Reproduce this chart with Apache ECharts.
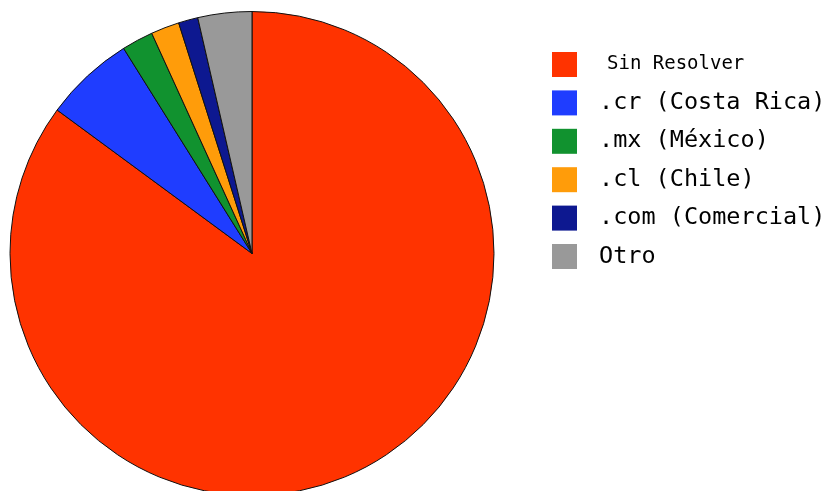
<!DOCTYPE html>
<html>
<head>
<meta charset="utf-8">
<script src="https://cdn.jsdelivr.net/npm/echarts@6/dist/echarts.min.js"></script>
<style>
html,body{margin:0;padding:0;background:#fff;}
#c{width:832px;height:491px;}
</style>
</head>
<body>
<div id="c"></div>
<script>
var categories = ['Sin Resolver', '.cr (Costa Rica)', '.mx (México)', '.cl (Chile)', '.com (Comercial)', 'Otro'];
var values = [85.1, 6.0, 2.1, 1.9, 1.3, 3.6];
var colors = ['#ff3300', '#1f3dff', '#11922f', '#ff9c0a', '#0d1890', '#999999'];

var chart = echarts.init(document.getElementById('c'), null, {renderer: 'canvas'});
var data = categories.map(function (n, i) {
  return {name: n, value: values[i], itemStyle: {color: colors[i]}};
});
chart.setOption({
  backgroundColor: '#ffffff',
  animation: false,
  legend: {
    orient: 'vertical',
    left: 552,
    top: 52,
    padding: 0,
    itemWidth: 25,
    itemHeight: 25,
    itemGap: 13.4,
    icon: 'rect',
    selectedMode: false,
    itemStyle: {borderWidth: 0},
    data: categories,
    formatter: function (name) {
      return name === 'Sin Resolver' ? '{s|' + name + '}' : '{m|' + name + '}';
    },
    textStyle: {
      color: '#000',
      rich: {
        s: {fontFamily: 'DejaVu Sans Mono', fontSize: 19, lineHeight: 25, padding: [0, 0, 0, 25], color: '#000'},
        m: {fontFamily: 'DejaVu Sans Mono', fontSize: 23.5, lineHeight: 25, padding: [0, 0, 0, 17], color: '#000'}
      }
    }
  },
  series: [{
    type: 'pie',
    center: [252, 253.5],
    radius: 242,
    startAngle: 90,
    clockwise: true,
    label: {show: false},
    labelLine: {show: false},
    emphasis: {disabled: true},
    itemStyle: {borderColor: '#111', borderWidth: 1},
    data: data
  }]
});
</script>
</body>
</html>
